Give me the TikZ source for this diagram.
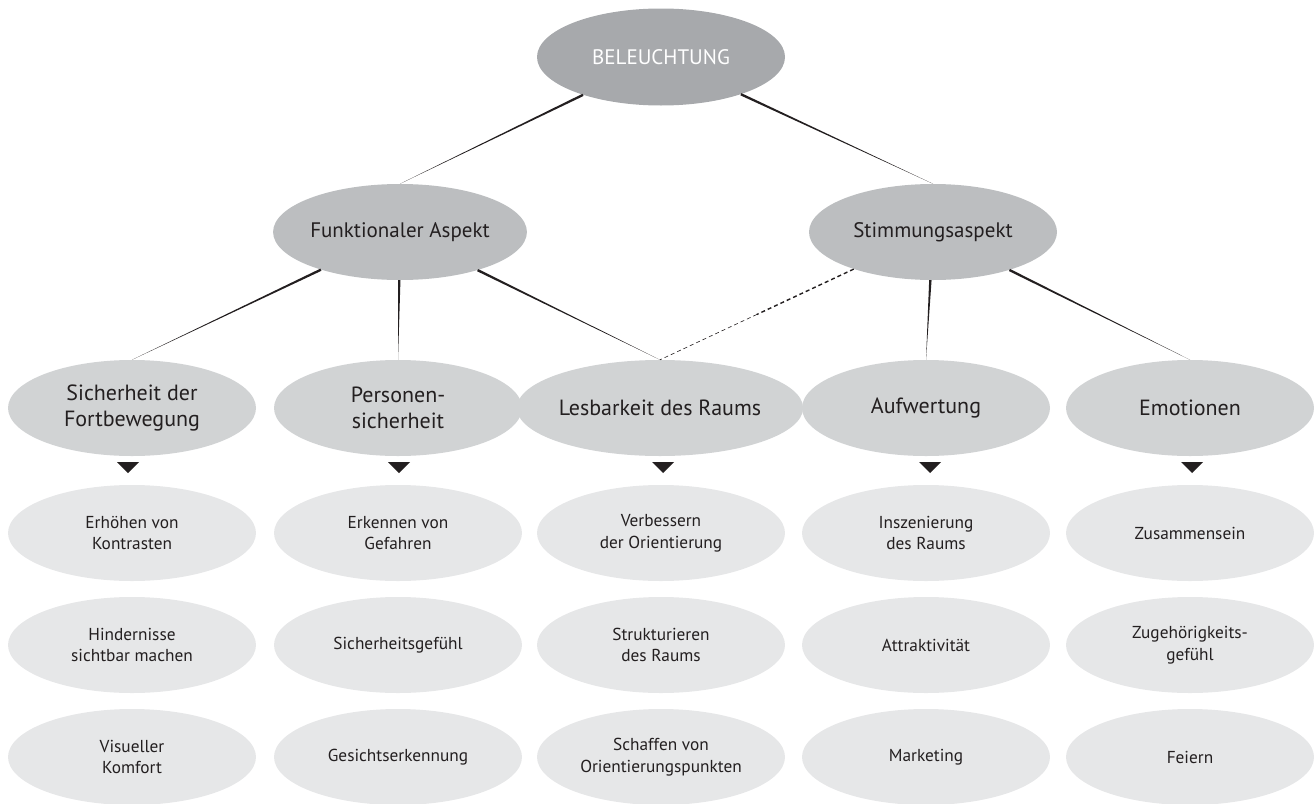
\documentclass[tikz,border=0pt]{standalone}
\usepackage{fontspec}
\setmainfont{PT Sans}
\usetikzlibrary{shapes.geometric,calc}
\definecolor{gA}{HTML}{A7A9AC}
\definecolor{gB}{HTML}{BCBEC0}
\definecolor{gC}{HTML}{D1D3D4}
\definecolor{gD}{HTML}{E6E7E8}
\definecolor{ink}{HTML}{231F20}
\newcommand\tapline[2]{%
  \path (#1) -- coordinate[pos=0] (#1#2s) (#2.north);
  \fill[ink] ($(#1#2s)!1.2pt!90:(#2.north)$) -- (#2.north) -- ($(#1#2s)!1.2pt!-90:(#2.north)$) -- cycle;}
\begin{document}
\begin{tikzpicture}[x=1pt,y=-1pt,
  ell/.style={ellipse, inner sep=0pt, minimum width=248pt, minimum height=96pt, align=center, text=ink},
  lvA/.style={ell, fill=gA, minimum height=97pt, text=white, font=\fontsize{21}{25}\selectfont},
  lvB/.style={ell, fill=gB, font=\fontsize{21}{25}\selectfont},
  lvC/.style={ell, fill=gC, font=\fontsize{22}{25.5}\selectfont},
  lvD/.style={ell, fill=gD, font=\fontsize{17.3}{21.7}\selectfont},
  marker/.style={fill=ink}
]
\useasboundingbox (0,0) rectangle (1314,803);
% level 1
\node[lvA] (bel) at (661,57) {BELEUCHTUNG};
% level 2
\node[lvB] (fa) at (400,232) {Funktionaler Aspekt};
\node[lvB] (sa) at (933,232) {Stimmungsaspekt};
% level 3
\node[lvC] (s1) at (132,408) {Sicherheit der\\Fortbewegung};
\node[lvC] (s2) at (398,408) {Personen-\\sicherheit};
\node[lvC] (s3) at (660,408) {Lesbarkeit des Raums};
\node[lvC] (s4) at (926,408) {Aufwertung};
\node[lvC] (s5) at (1190,408) {Emotionen};
% level 4
\node[lvD] (a1) at (132,533) {Erhöhen von\\Kontrasten};
\node[lvD] (a2) at (132,645) {Hindernisse\\sichtbar machen};
\node[lvD] (a3) at (132,757) {Visueller\\Komfort};
\node[lvD] (b1) at (398,533) {Erkennen von\\Gefahren};
\node[lvD] (b2) at (398,645) {Sicherheitsgefühl};
\node[lvD] (b3) at (398,757) {Gesichtserkennung};
\node[lvD] (c1) at (661,533) {Verbessern\\der Orientierung};
\node[lvD] (c2) at (661,645) {Strukturieren\\des Raums};
\node[lvD] (c3) at (661,757) {Schaffen von\\Orientierungspunkten};
\node[lvD] (d1) at (926,533) {Inszenierung\\des Raums};
\node[lvD] (d2) at (926,645) {Attraktivität};
\node[lvD] (d3) at (926,757) {Marketing};
\node[lvD] (e1) at (1190,533) {Zusammensein};
\node[lvD] (e2) at (1190,645) {Zugehörigkeits-\\gefühl};
\node[lvD] (e3) at (1190,757) {Feiern};
% connectors
\tapline{bel}{fa}
\tapline{bel}{sa}
\tapline{fa}{s1}
\tapline{fa}{s2}
\tapline{fa}{s3}
\tapline{sa}{s4}
\tapline{sa}{s5}
\path (sa) -- coordinate[pos=0] (sas3s) coordinate[pos=0.5] (sas3m) (s3.north);
\draw[ink, line width=1.4pt, dash pattern=on 4pt off 3pt] (sas3s) -- (sas3m);
\draw[ink, line width=0.6pt, dash pattern=on 4pt off 3pt] (sas3m) -- (s3.north);
% markers
\foreach \mx in {128, 399, 663, 930, 1192}{
  \fill[marker] (\mx-11,462) -- (\mx+11,462) -- (\mx,473) -- cycle;
}
\end{tikzpicture}
\end{document}
